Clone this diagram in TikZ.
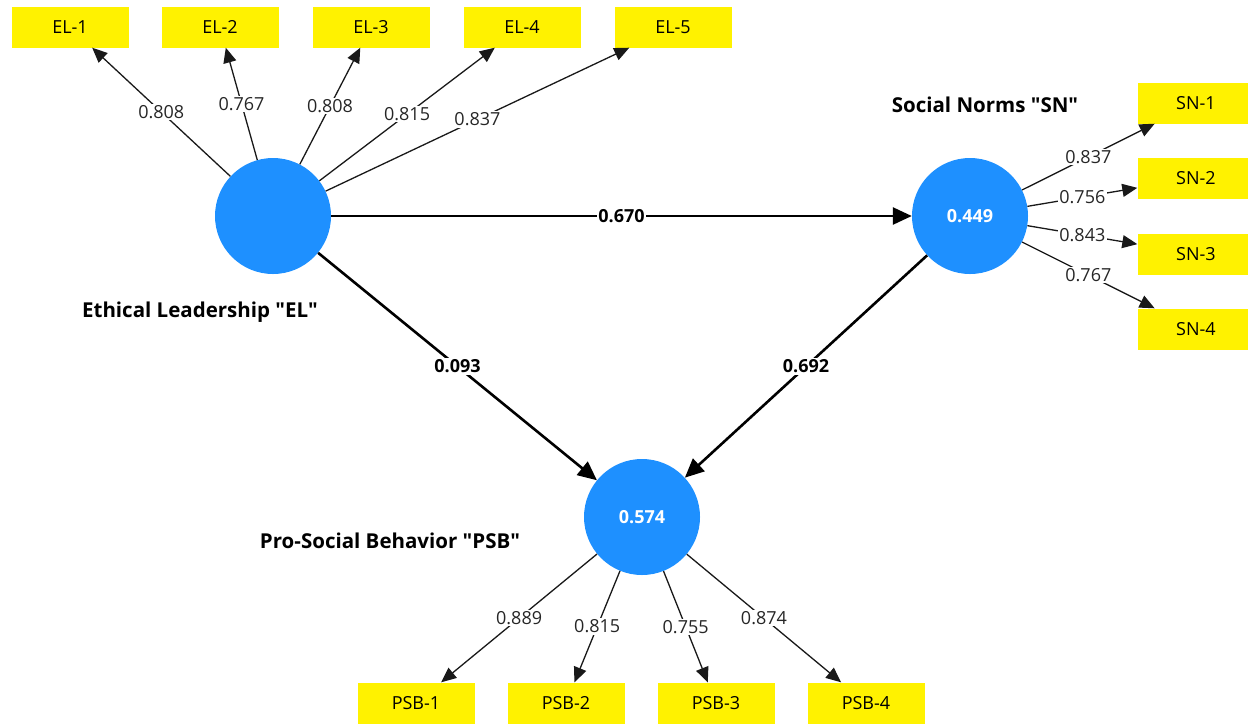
\documentclass[tikz,border=0pt]{standalone}
\usepackage{fontspec}
\setmainfont{Open Sans}
\usepackage{tikz}
\usetikzlibrary{arrows.meta}
\definecolor{lvblue}{RGB}{30,144,255}
\tikzset{>={Triangle[length=15pt,width=13pt]}}
\tikzset{
  indicator/.style={fill=yellow,minimum width=117pt,minimum height=41pt,inner sep=0pt},
  latent/.style={circle,fill=lvblue,minimum size=116pt,inner sep=0pt,text=white,font=\fontsize{18}{21}\selectfont\bfseries},
  lvname/.style={font=\fontsize{20.5}{24}\selectfont\bfseries},
  loading/.style={->,line width=1.3pt,black!90},
  structural/.style={-{Triangle[length=19pt,width=17pt]},line width=2.6pt},
  weight/.style={fill=white,inner sep=1.5pt,midway,text=black!85},
  coef/.style={fill=white,inner sep=1.5pt,midway,font=\fontsize{18}{21}\selectfont\bfseries}
}
\newcommand{\qq}{\textquotedbl}

\begin{document}
\begin{tikzpicture}[x=1pt,y=-1pt,font=\fontsize{18}{21}\selectfont]
       \useasboundingbox (0,0) rectangle (1248,724);
       % latent variables
       \node[latent] (EL) at (273,216) {};
       \node[latent] (SN) at (970,216) {0.449};
       \node[latent] (PSB) at (642,517) {0.574};
       \node[lvname] (ELname) at (200,312) {Ethical Leadership \qq EL\qq};
       \node[lvname] (SNname) at (985,105) {Social Norms \qq SN\qq};
       \node[lvname] (PSBname) at (390,541) {Pro-Social Behavior \qq PSB\qq};
       % indicators
       \node[indicator] (EL1) at (70,27) {EL-1};
       \node[indicator] (EL2) at (220,27) {EL-2};
       \node[indicator] (EL3) at (371,27) {EL-3};
       \node[indicator] (EL4) at (522,27) {EL-4};
       \node[indicator] (EL5) at (673,27) {EL-5};
       \node[indicator] (SN1) at (1196,103) {SN-1};
       \node[indicator] (SN2) at (1196,178) {SN-2};
       \node[indicator] (SN3) at (1196,254) {SN-3};
       \node[indicator] (SN4) at (1196,329) {SN-4};
       \node[indicator] (PSB1) at (416,703) {PSB-1};
       \node[indicator] (PSB2) at (566,703) {PSB-2};
       \node[indicator] (PSB3) at (716,703) {PSB-3};
       \node[indicator] (PSB4) at (866,703) {PSB-4};
       % outer loadings
       \draw[loading] (EL) -- node[weight]{0.808} (EL1);
       \draw[loading] (EL) -- node[weight]{0.767} (EL2);
       \draw[loading] (EL) -- node[weight]{0.808} (EL3);
       \draw[loading] (EL) -- node[weight]{0.815} (EL4);
       \draw[loading] (EL) -- node[weight]{0.837} (EL5);
       \draw[loading] (SN) -- node[weight]{0.837} (SN1);
       \draw[loading] (SN) -- node[weight]{0.756} (SN2);
       \draw[loading] (SN) -- node[weight]{0.843} (SN3);
       \draw[loading] (SN) -- node[weight]{0.767} (SN4);
       \draw[loading] (PSB) -- node[weight]{0.889} (PSB1);
       \draw[loading] (PSB) -- node[weight]{0.815} (PSB2);
       \draw[loading] (PSB) -- node[weight]{0.755} (PSB3);
       \draw[loading] (PSB) -- node[weight]{0.874} (PSB4);
       % path coefficients
       \draw[structural] (EL) -- node[coef]{0.670} (SN);
       \draw[structural] (EL) -- node[coef]{0.093} (PSB);
       \draw[structural] (SN) -- node[coef]{0.692} (PSB);
\end{tikzpicture}
\end{document}
